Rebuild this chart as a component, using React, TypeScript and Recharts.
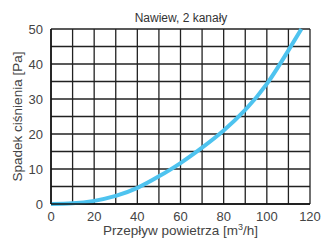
import { LineChart, Line, XAxis, YAxis, CartesianGrid, Label } from "recharts";

const flow = [0, 10, 20, 30, 40, 50, 60, 70, 80, 90, 100, 110, 116];
const pressure = [0, 0.2, 0.9, 2.3, 4.6, 7.9, 11.7, 16.1, 21.0, 26.9, 34.3, 43.9, 50];
const xTicks = [0, 10, 20, 30, 40, 50, 60, 70, 80, 90, 100, 110, 120];
const yTicks = [0, 5, 10, 15, 20, 25, 30, 35, 40, 45, 50];

const title = "Nawiew, 2 kanały";
const yTitle = "Spadek ciśnienia [Pa]";

const data = flow.map((f, i) => ({ flow: f, pressure: pressure[i] }));

const font = "Liberation Sans, Arial, sans-serif";
const tickStyle = { fontSize: 13, fill: "#444", fontFamily: font };

function XTitle(props: any) {
  const vb = props.viewBox || {};
  const cx = vb.x + vb.width / 2;
  return (
    <text x={cx} y={235} textAnchor="middle" fontSize={13.5} fill="#444" fontFamily={font}>
      <tspan>Przepływ powietrza [m</tspan>
      <tspan dy={-5} fontSize={9}>3</tspan>
      <tspan dy={5}>/h]</tspan>
    </text>
  );
}

export default function App() {
  return (
    <div style={{ position: "absolute", left: 0, top: 0, background: "#fff" }}>
      <LineChart width={321} height={242} data={data} margin={{ top: 29, right: 11, left: 0, bottom: 0 }}>
        <text x={181} y={22} textAnchor="middle" fontSize={12} fill="#333" fontFamily={font}>
          {title}
        </text>
        <CartesianGrid stroke="#222" strokeWidth={1.3} />
        <XAxis
          dataKey="flow"
          type="number"
          domain={[0, 120]}
          ticks={xTicks}
          interval={0}
          tickFormatter={(v: number) => (v % 20 === 0 ? String(v) : "")}
          tickLine={false}
          axisLine={{ stroke: "#111", strokeWidth: 1.5 }}
          tick={tickStyle}
          height={38}
        >
          <Label content={<XTitle />} />
        </XAxis>
        <YAxis
          type="number"
          domain={[0, 50]}
          ticks={yTicks}
          interval={0}
          tickFormatter={(v: number) => (v % 10 === 0 ? String(v) : "")}
          tickLine={false}
          axisLine={{ stroke: "#111", strokeWidth: 1.5 }}
          tick={tickStyle}
          width={51}
        >
          <Label
            value={yTitle}
            angle={-90}
            position="insideLeft"
            offset={0}
            style={{ fontSize: 13.5, fill: "#444", fontFamily: font, textAnchor: "middle" }}
            dx={17}
          />
        </YAxis>
        <Line
          type="natural"
          dataKey="pressure"
          stroke="#4ec3ef"
          strokeWidth={4}
          dot={false}
          isAnimationActive={false}
        />
      </LineChart>
    </div>
  );
}
